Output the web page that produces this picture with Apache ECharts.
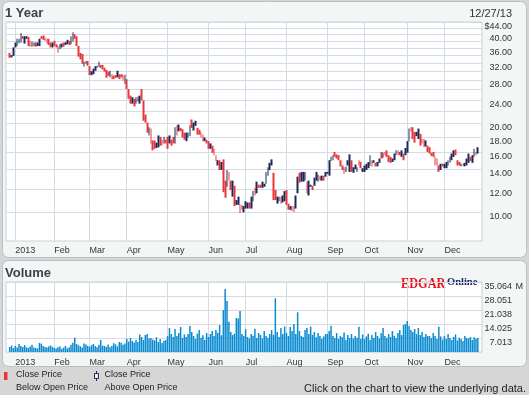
<!DOCTYPE html>
<html><head><meta charset="utf-8">
<script src="https://cdn.jsdelivr.net/npm/echarts@6.0.0/dist/echarts.min.js"></script>
<style>html,body{margin:0;padding:0;background:#d6d6d6;}#c{width:529px;height:395px;}</style>
</head><body><div id="c"></div>
<script>
// ---- axis / tick data ----
const monthLabels = ['2013','Feb','Mar','Apr','May','Jun','Jul','Aug','Sep','Oct','Nov','Dec'];
const monthStartIdx = [3,24,43,63,85,107,127,149,171,191,214,234]; // first trading day index of each month
const priceGridValues = [10,12,14,16,18,20,22,24,26,28,30,32,34,36,38,40,42,44];
const priceLabelValues = [10,12,14,16,18,20,24,28,32,36,40,44];
const volTickLabels = ['', '7.013', '14.025', '21.038', '28.051', '35.064'];

// ---- daily opens (Dec 27 2012 .. Dec 27 2013) ----
const openPrices = [
 34.6,33.4,33.8,
 36.1,36.5,37.2,37.5,39.4,37.2,38.6,39.2,38.0,36.3,36.5,37.5,36.5,36.5,39.4,39.6,39.0,38.6,38.6,37.5,36.1,
 38.0,37.0,36.5,35.6,36.1,37.5,36.8,37.0,38.0,37.0,37.8,40.0,39.4,36.5,34.6,34.3,31.1,31.8,32.5,
 31.2,29.1,29.3,30.1,30.8,31.0,31.5,31.5,30.8,30.3,29.9,28.6,29.3,28.95,29.1,28.6,29.3,29.3,29.1,27.2,
 28.2,26.1,24.8,23.3,24.2,23.3,23.7,23.3,26.1,23.9,21.4,20.1,18.2,19.2,17.5,17.5,16.5,16.6,18.0,17.6,17.1,17.6,
 18.0,17.1,17.6,18.0,17.1,19.7,18.8,19.3,19.1,18.6,17.4,17.9,18.1,20.6,18.9,19.6,19.3,19.0,18.6,18.3,17.4,17.6,
 17.4,16.4,16.8,16.4,15.6,14.4,15.0,13.9,15.1,12.8,12.2,13.7,12.8,11.3,12.3,10.6,10.6,10.6,10.6,10.0,
 10.3,10.3,10.8,10.3,10.9,12.1,11.6,12.4,12.4,12.1,12.2,12.5,13.3,13.9,14.4,13.6,11.9,10.7,10.9,11.3,10.8,10.9,
 11.9,10.7,10.2,10.5,10.5,10.3,11.6,13.6,12.7,12.7,12.8,12.7,11.4,12.2,12.3,12.3,12.8,12.7,13.3,12.8,13.3,13.2,
 13.5,13.3,14.9,15.0,16.0,15.7,15.6,15.0,14.4,14.2,13.7,14.4,13.7,15.0,13.6,14.0,13.7,15.0,14.8,13.7,
 13.7,13.9,14.1,14.4,15.0,14.7,14.7,14.3,14.7,16.0,15.3,16.0,16.2,15.6,15.4,14.8,15.0,15.6,16.2,16.0,15.4,15.8,15.6,
 15.9,17.4,19.4,19.4,18.7,18.1,17.7,18.4,17.7,17.7,16.7,16.8,16.6,15.9,16.0,15.4,15.2,14.4,13.9,14.6,
 14.1,14.1,14.4,14.7,15.0,15.4,16.3,15.0,14.8,14.3,14.6,14.3,14.4,14.7,15.4,14.7,15.4,16.0,15.8
];
// ---- daily closes ----
const closePrices = [
 33.3,34.0,36.1,
 37.5,38.6,38.6,40.4,38.6,39.4,39.4,36.5,36.3,37.8,37.5,36.3,37.5,38.6,38.6,38.3,38.0,37.3,36.8,36.1,37.5,
 36.5,36.1,34.6,37.0,37.2,36.3,37.6,38.3,36.8,39.4,40.6,38.6,36.5,33.6,32.9,31.8,32.3,32.5,31.3,
 29.1,30.0,30.6,31.2,31.3,32.3,30.8,30.4,29.9,28.5,28.95,30.1,28.2,28.2,28.5,30.1,28.2,28.6,27.9,29.2,
 26.1,24.2,23.3,24.5,22.8,24.5,24.6,24.8,23.9,20.4,20.1,18.6,19.4,17.1,16.2,16.4,17.2,18.2,16.8,16.9,18.0,17.1,
 16.4,18.2,16.8,17.1,19.4,18.2,19.8,18.8,17.9,17.6,18.6,18.6,19.7,19.3,20.1,20.4,18.3,18.3,17.9,17.4,17.9,17.1,
 16.4,17.1,15.9,15.6,14.9,15.0,13.9,14.8,11.7,11.2,13.9,12.8,11.9,12.8,10.5,11.0,11.3,9.94,10.2,10.5,
 10.9,10.8,10.3,11.3,11.8,11.4,12.7,12.1,12.1,12.7,12.5,13.7,14.2,14.7,15.1,11.0,11.0,11.3,11.3,10.7,11.4,11.8,
 10.6,10.2,10.5,10.1,10.0,11.4,13.2,12.6,13.7,13.7,13.7,11.6,12.8,12.4,11.9,13.1,13.7,13.4,12.8,13.3,12.8,13.7,
 13.7,15.0,15.4,15.6,15.4,15.2,15.0,14.3,13.9,13.5,14.3,15.0,15.7,13.7,14.2,14.5,14.2,14.4,14.1,14.1,
 14.4,14.6,14.8,15.6,14.3,15.0,14.3,14.8,15.2,15.2,15.9,15.6,15.4,14.8,14.7,15.2,15.8,16.2,15.7,15.6,16.2,15.0,16.5,
 17.4,19.2,18.8,17.7,17.2,18.7,19.2,16.8,17.1,16.6,17.5,16.0,15.8,15.5,15.4,14.4,14.4,13.7,14.6,14.3,
 14.6,14.8,15.0,15.4,15.8,16.2,15.6,14.4,14.4,14.6,14.4,14.7,15.2,15.8,14.9,15.6,16.4,15.6,16.6
];
// ---- daily volume, millions ----
const volumesM = [
 2.5,3.2,2.0,
 3.0,2.2,4.0,3.0,2.5,3.5,2.4,2.0,2.8,3.6,2.2,2.0,1.8,4.5,4.2,3.0,2.5,2.2,2.8,3.3,2.5,
 2.0,1.8,2.4,2.8,1.6,2.2,3.0,1.8,2.4,3.6,4.6,7.2,4.0,3.4,2.8,2.2,4.2,3.8,3.0,
 2.6,3.4,4.0,3.0,2.4,3.6,6.0,3.2,3.0,2.6,3.8,2.4,3.0,4.4,3.8,2.8,5.0,4.6,3.6,4.2,
 6.6,5.2,7.0,5.5,4.8,6.0,5.0,8.8,7.5,6.0,8.5,9.0,6.8,7.0,6.2,5.8,7.4,5.0,6.5,4.5,5.6,6.0,
 8.0,12.0,9.0,7.5,11.5,8.0,9.5,12.5,7.0,8.8,7.5,9.0,13.0,10.0,8.0,6.5,9.2,11.0,7.2,8.4,6.0,9.5,
 7.5,9.0,10.5,8.0,11.0,9.6,13.5,8.4,21.0,31.5,25.5,15.2,10.0,8.5,9.2,17.0,16.8,20.5,9.0,8.0,
 11.4,7.5,6.8,9.0,8.2,11.6,7.0,9.5,8.5,6.8,10.5,8.0,7.2,9.0,11.0,8.6,26.9,10.0,7.5,12.0,9.0,12.7,
 9.5,8.0,12.5,10.5,14.0,9.0,19.9,10.5,8.0,7.5,11.0,12.0,9.0,12.7,8.6,10.0,7.4,9.5,8.0,6.6,7.8,9.0,
 9.0,10.5,13.2,8.0,7.0,9.5,6.5,8.0,7.4,9.8,6.0,8.5,7.0,9.0,6.8,8.0,7.2,12.7,6.5,8.8,
 6.5,7.8,9.2,6.0,8.5,7.0,10.0,8.0,6.8,9.4,12.0,8.0,7.0,9.0,7.5,10.5,8.2,7.0,9.5,11.0,8.5,13.5,14.0,
 15.5,13.0,11.0,10.0,11.5,9.0,12.0,8.5,10.0,7.5,9.0,8.0,8.0,7.0,9.5,8.0,6.5,12.7,7.8,6.2,
 8.0,6.5,9.0,7.0,6.0,7.5,8.8,5.8,7.2,6.5,5.5,8.0,7.0,6.8,7.5,6.0,7.4,6.6,7.0
];

const candles = openPrices.map((o, i) => {
  const c = closePrices[i];
  return [i, o, c, Math.min(o, c), Math.max(o, c)];
});
const volData = volumesM.map((v, i) => [i, v]);

const FONT = '"Liberation Sans", Arial, sans-serif';
const GRID_LINE = '#d4dbe3';
const VOL_STEP = 35.064 / 5;

function xAxisFor(gi, margin) {
  return {
    type: 'value', gridIndex: gi, min: -2, max: 254.25,
    axisLine: { show: false },
    axisTick: { show: false, customValues: monthStartIdx },
    splitLine: { show: true, lineStyle: { color: GRID_LINE, width: 1 } },
    axisLabel: {
      customValues: monthStartIdx,
      formatter: v => monthLabels[monthStartIdx.indexOf(Math.round(v))] || '',
      align: 'left', margin: margin, fontSize: 9, color: '#333', fontFamily: FONT
    }
  };
}

const chart = echarts.init(document.getElementById('c'), null, { renderer: 'canvas' });
chart.setOption({
  animation: false,
  backgroundColor: '#d6d6d6',
  grid: [
    { left: 6, top: 22, width: 476, height: 219, show: true, backgroundColor: '#ffffff',
      borderColor: '#c9d1da', borderWidth: 1, outerBoundsMode: 'none', containLabel: false },
    { left: 6, top: 282, width: 476, height: 70, show: true, backgroundColor: '#ffffff',
      borderColor: '#c9d1da', borderWidth: 1, outerBoundsMode: 'none', containLabel: false }
  ],
  xAxis: [ xAxisFor(0, 5), xAxisFor(1, 6) ],
  yAxis: [
    {
      type: 'log', gridIndex: 0, min: 8, max: 44, position: 'right',
      axisLine: { show: false },
      axisTick: { show: false, customValues: priceGridValues },
      splitLine: { show: true, lineStyle: { color: GRID_LINE, width: 1 } },
      axisLabel: {
        customValues: priceLabelValues,
        formatter: v => (v > 43 ? '$44.00' : v.toFixed(2)),
        margin: 30, align: 'right', verticalAlign: 'top',
        fontSize: 9, color: '#333', fontFamily: FONT
      }
    },
    {
      type: 'value', gridIndex: 1, min: 0, max: 35.064, interval: VOL_STEP, position: 'right',
      axisLine: { show: false }, axisTick: { show: false },
      splitLine: { show: true, lineStyle: { color: GRID_LINE, width: 1 } },
      axisLabel: {
        formatter: v => volTickLabels[Math.round(v / VOL_STEP)] || '',
        margin: 30, align: 'right', verticalAlign: 'top',
        fontSize: 9, color: '#333', fontFamily: FONT
      }
    }
  ],
  series: [
    {
      type: 'candlestick', xAxisIndex: 0, yAxisIndex: 0, silent: true,
      data: candles, encode: { x: 0, y: [1, 2, 3, 4] },
      barWidth: 2.2,
      itemStyle: { color: '#1c2859', color0: '#e6363b', borderColor: '#1c2859', borderColor0: '#e6363b', borderWidth: 0 }
    },
    {
      type: 'bar', xAxisIndex: 1, yAxisIndex: 1, silent: true,
      data: volData, barWidth: 1.5,
      itemStyle: { color: '#0a8bd1' }
    }
  ],
  graphic: [
    { type: 'rect', z: -100, shape: { x: 2.5, y: 1.5, width: 524, height: 256, r: 6 },
      style: { fill: '#f3f6f5', stroke: '#b8c0c8', lineWidth: 1 } },
    { type: 'rect', z: -100, shape: { x: 2.5, y: 260.5, width: 524, height: 106, r: 6 },
      style: { fill: '#f3f6f5', stroke: '#b8c0c8', lineWidth: 1 } },
    { type: 'text', x: 5, y: 13, style: { text: '1 Year', font: 'bold 13px "Liberation Sans", Arial, sans-serif', fill: '#3c424b', verticalAlign: 'middle' } },
    { type: 'text', x: 512, y: 14, style: { text: '12/27/13', font: '11px "Liberation Sans", Arial, sans-serif', fill: '#333', align: 'right', verticalAlign: 'middle' } },
    { type: 'text', x: 5, y: 273.5, style: { text: 'Volume', font: 'bold 13px "Liberation Sans", Arial, sans-serif', fill: '#3c424b', verticalAlign: 'middle' } },
    { type: 'text', x: 401, y: 277, scaleX: 0.82, style: { text: 'EDGAR', font: 'bold 15px "Liberation Serif", serif', fill: '#e8131b', verticalAlign: 'alphabetic' } },
    { type: 'text', x: 447, y: 277, style: { text: 'Online', font: 'bold 10.5px "Liberation Serif", serif', fill: '#1b2a66', verticalAlign: 'alphabetic' } },
    { type: 'text', x: 515.5, y: 287, style: { text: 'M', font: '9px "Liberation Sans", Arial, sans-serif', fill: '#333', verticalAlign: 'middle' } },
    // legend
    { type: 'rect', shape: { x: 4, y: 372, width: 3.5, height: 8 }, style: { fill: '#e6363b' } },
    { type: 'line', shape: { x1: 96.5, y1: 371, x2: 96.5, y2: 381 }, style: { stroke: '#1c2859', lineWidth: 1 } },
    { type: 'rect', shape: { x: 94.5, y: 373.5, width: 4, height: 5 }, style: { fill: '#f0f0f0', stroke: '#1c2859', lineWidth: 1 } },
    { type: 'text', x: 16, y: 375, style: { text: 'Close Price', font: '9px "Liberation Sans", Arial, sans-serif', fill: '#222', verticalAlign: 'middle' } },
    { type: 'text', x: 16, y: 387.5, style: { text: 'Below Open Price', font: '9px "Liberation Sans", Arial, sans-serif', fill: '#222', verticalAlign: 'middle' } },
    { type: 'text', x: 104.5, y: 375, style: { text: 'Close Price', font: '9px "Liberation Sans", Arial, sans-serif', fill: '#222', verticalAlign: 'middle' } },
    { type: 'text', x: 104.5, y: 387.5, style: { text: 'Above Open Price', font: '9px "Liberation Sans", Arial, sans-serif', fill: '#222', verticalAlign: 'middle' } },
    { type: 'text', x: 526, y: 389, style: { text: 'Click on the chart to view the underlying data.', font: '11px "Liberation Sans", Arial, sans-serif', fill: '#222', align: 'right', verticalAlign: 'middle' } }
  ]
});
</script>
</body></html>
